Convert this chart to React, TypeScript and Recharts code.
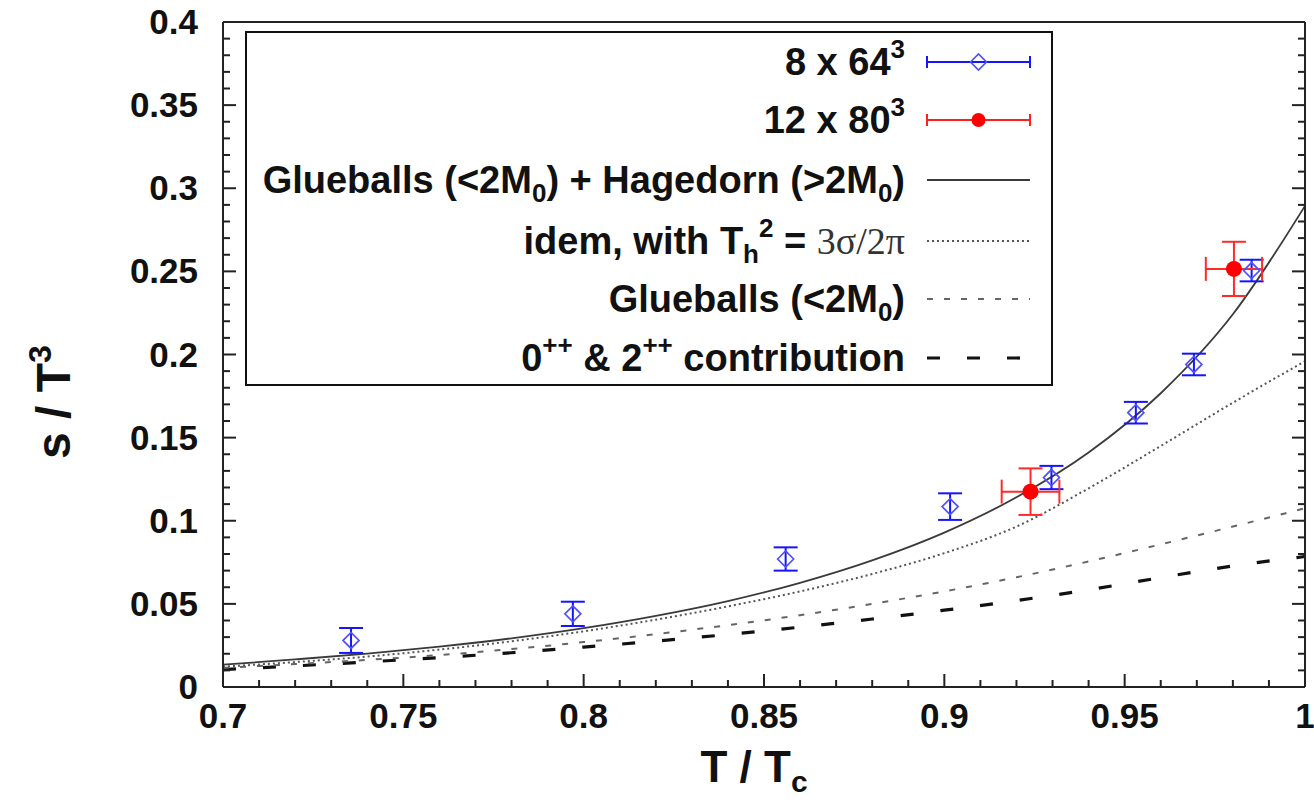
import { ComposedChart, Line, Scatter, XAxis, YAxis, ErrorBar, Legend } from 'recharts'

const tGrid = [0.7, 0.72, 0.74, 0.76, 0.78, 0.8, 0.82, 0.84, 0.86, 0.88, 0.9, 0.92, 0.94, 0.96, 0.98, 1.0]
// Glueballs (<2M0) + Hagedorn (>2M0)
const sFull = [0.0134, 0.0166, 0.0201, 0.0243, 0.0293, 0.0354, 0.0428, 0.0517, 0.0627, 0.0762, 0.0929, 0.1141, 0.1411, 0.1767, 0.2242, 0.2894]
// idem, with Th^2 = 3 sigma / 2 pi
const sTh = [0.0122, 0.015, 0.0183, 0.0225, 0.0275, 0.0335, 0.0405, 0.0485, 0.0575, 0.068, 0.0805, 0.0965, 0.1195, 0.145, 0.171, 0.196]
// Glueballs (<2M0)
const sGlue = [0.0115, 0.0138, 0.0163, 0.0192, 0.0228, 0.027, 0.0318, 0.0372, 0.0432, 0.05, 0.0575, 0.066, 0.0755, 0.0858, 0.0965, 0.1075]
// 0++ & 2++ contribution
const sLow = [0.0105, 0.0127, 0.0151, 0.0177, 0.0206, 0.024, 0.0276, 0.0316, 0.036, 0.0409, 0.0462, 0.052, 0.0585, 0.0658, 0.0728, 0.0785]

// lattice 8 x 64^3
const blueT = [0.7355, 0.797, 0.856, 0.9016, 0.9297, 0.9531, 0.9692, 0.9852]
const blueS = [0.028, 0.044, 0.077, 0.1085, 0.126, 0.165, 0.194, 0.2505]
const blueErr = [0.0075, 0.0073, 0.007, 0.008, 0.007, 0.0065, 0.0065, 0.0065]

// lattice 12 x 80^3
const redT = [0.9239, 0.9803]
const redS = [0.1175, 0.2515]
const redErrS = [0.014, 0.0163]
const redErrT = [0.008, 0.0078]

const xTicks = Array.from({ length: 31 }, (_, i) => +(0.7 + i * 0.01).toFixed(2))
const yTicks = Array.from({ length: 41 }, (_, i) => +(i * 0.01).toFixed(2))

const curve = (vals: number[]) => tGrid.map((t, i) => ({ t, s: vals[i] }))
const blueData = blueT.map((t, i) => ({ t, s: blueS[i], ey: blueErr[i] }))
const redData = redT.map((t, i) => ({ t, s: redS[i], ey: redErrS[i], ex: redErrT[i] }))

const FONT = '"Liberation Sans", Arial, sans-serif'
const AXIS = '#222'
const MAJOR = 13
const MINOR = 7
const isMajor = (v: number) => Math.abs(v * 20 - Math.round(v * 20)) < 1e-6
const fmt = (v: number) => String(+v.toFixed(2))
const tickText = { fontFamily: FONT, fontWeight: 700, fontSize: 35, fill: '#111' }

function BottomTick({ x, y, payload }: any) {
  const major = isMajor(payload.value)
  return (
    <g>
      <line x1={x} y1={y} x2={x} y2={y - (major ? MAJOR : MINOR)} stroke={AXIS} strokeWidth={2} />
      {major && (
        <text x={x} y={y + 41} textAnchor="middle" style={tickText}>{fmt(payload.value)}</text>
      )}
    </g>
  )
}

function TopTick({ x, y, payload }: any) {
  const major = isMajor(payload.value)
  return <line x1={x} y1={y} x2={x} y2={y + (major ? MAJOR : MINOR)} stroke={AXIS} strokeWidth={2} />
}

function LeftTick({ x, y, payload }: any) {
  const major = isMajor(payload.value)
  return (
    <g>
      <line x1={x} y1={y} x2={x + (major ? MAJOR : MINOR)} y2={y} stroke={AXIS} strokeWidth={2} />
      {major && (
        <text x={x - 25} y={y + 12} textAnchor="end" style={tickText}>{fmt(payload.value)}</text>
      )}
    </g>
  )
}

function RightTick({ x, y, payload }: any) {
  const major = isMajor(payload.value)
  return <line x1={x} y1={y} x2={x - (major ? MAJOR : MINOR)} y2={y} stroke={AXIS} strokeWidth={2} />
}

const titleText = { fontFamily: FONT, fontWeight: 700, fontSize: 44, fill: '#111' }

function XTitle({ viewBox }: any) {
  return (
    <text x={viewBox.x + viewBox.width / 2 - 10} y={viewBox.y + 95} textAnchor="middle" style={titleText}>
      T / T<tspan dy={10} fontSize={30}>c</tspan>
    </text>
  )
}

function YTitle() {
  return (
    <text transform="translate(70, 402) rotate(-90)" textAnchor="middle" style={{ ...titleText, fontSize: 48 }}>
      s / T<tspan dy={-19} fontSize={32}>3</tspan>
    </text>
  )
}

const Diamond = ({ cx, cy }: any) => (
  <polygon
    points={`${cx - 8},${cy} ${cx},${cy - 8} ${cx + 8},${cy} ${cx},${cy + 8}`}
    fill="none"
    stroke="#5050ff"
    strokeWidth={1.7}
  />
)
const Dot = ({ cx, cy }: any) => <circle cx={cx} cy={cy} r={8} fill="#ff0000" />

// line styles shared by the curves and the legend samples
const styles = {
  full: { stroke: '#3a3a3a', strokeWidth: 1.8 },
  th: { stroke: '#555', strokeWidth: 2, strokeDasharray: '2 3' },
  glue: { stroke: '#666', strokeWidth: 2, strokeDasharray: '6 11' },
  low: { stroke: '#111', strokeWidth: 3.2, strokeDasharray: '13 27' },
}

function LegendBox() {
  const rows = [31, 89, 149, 210, 268, 327]
  const tx = 660
  const x0 = 682
  const x1 = 785
  const xm = (x0 + x1) / 2
  const txt = { fontFamily: FONT, fontWeight: 700, fontSize: 38, fill: '#111' }
  const sub = 26
  return (
    <svg width={808} height={355} style={{ display: 'block' }}>
      <rect x={1} y={1} width={806} height={353} fill="#fff" stroke="#111" strokeWidth={2} />
      <text x={tx} y={rows[0] + 13} textAnchor="end" style={txt}>
        8 x 64<tspan dy={-17} fontSize={sub}>3</tspan>
      </text>
      <g stroke="#1414ff" strokeWidth={2}>
        <line x1={x0} y1={rows[0]} x2={x1} y2={rows[0]} />
        <line x1={x0} y1={rows[0] - 6} x2={x0} y2={rows[0] + 6} />
        <line x1={x1} y1={rows[0] - 6} x2={x1} y2={rows[0] + 6} />
      </g>
      <Diamond cx={xm} cy={rows[0]} />

      <text x={tx} y={rows[1] + 13} textAnchor="end" style={txt}>
        12 x 80<tspan dy={-17} fontSize={sub}>3</tspan>
      </text>
      <g stroke="#ff2020" strokeWidth={2}>
        <line x1={x0} y1={rows[1]} x2={x1} y2={rows[1]} />
        <line x1={x0} y1={rows[1] - 6} x2={x0} y2={rows[1] + 6} />
        <line x1={x1} y1={rows[1] - 6} x2={x1} y2={rows[1] + 6} />
      </g>
      <circle cx={xm} cy={rows[1]} r={7} fill="#ff0000" />

      <text x={tx} y={rows[2] + 13} textAnchor="end" style={txt}>
        Glueballs (&lt;2M<tspan dy={9} fontSize={sub}>0</tspan>
        <tspan dy={-9}>) + Hagedorn (&gt;2M</tspan>
        <tspan dy={9} fontSize={sub}>0</tspan>
        <tspan dy={-9}>)</tspan>
      </text>
      <line x1={x0} y1={rows[2]} x2={x1} y2={rows[2]} {...styles.full} />

      <text x={tx} y={rows[3] + 13} textAnchor="end" style={txt}>
        idem, with T<tspan dy={9} fontSize={sub}>h</tspan>
        <tspan dy={-26} fontSize={sub}>2</tspan>
        <tspan dy={17}> = </tspan>
        <tspan fontFamily='"Liberation Serif", "Times New Roman", serif' fontWeight={400} fill="#333">3σ/2π</tspan>
      </text>
      <line x1={x0} y1={rows[3]} x2={x1} y2={rows[3]} {...styles.th} />

      <text x={tx} y={rows[4] + 13} textAnchor="end" style={txt}>
        Glueballs (&lt;2M<tspan dy={9} fontSize={sub}>0</tspan>
        <tspan dy={-9}>)</tspan>
      </text>
      <line x1={x0} y1={rows[4]} x2={x1} y2={rows[4]} {...styles.glue} />

      <text x={tx} y={rows[5] + 13} textAnchor="end" style={txt}>
        0<tspan dy={-17} fontSize={sub}>++</tspan>
        <tspan dy={17}> &amp; 2</tspan>
        <tspan dy={-17} fontSize={sub}>++</tspan>
        <tspan dy={17}> contribution</tspan>
      </text>
      <line x1={x0} y1={rows[5]} x2={x1} y2={rows[5]} {...styles.low} />
    </svg>
  )
}

export default function App() {
  return (
    <div style={{ position: 'absolute', left: 0, top: 0, background: '#fff' }}>
      <ComposedChart width={1314} height={802} margin={{ top: 0, right: 0, bottom: 0, left: 0 }}>
        <XAxis
          dataKey="t"
          type="number"
          domain={[0.7, 1]}
          ticks={xTicks}
          interval={0}
          allowDataOverflow
          height={115}
          tickSize={0}
          tickMargin={0}
          tickLine={false}
          tick={<BottomTick />}
          axisLine={{ stroke: AXIS, strokeWidth: 2 }}
          label={<XTitle />}
        />
        <XAxis
          xAxisId="top"
          orientation="top"
          type="number"
          domain={[0.7, 1]}
          ticks={xTicks}
          interval={0}
          allowDataOverflow
          height={22}
          tickSize={0}
          tickMargin={0}
          tickLine={false}
          tick={<TopTick />}
          axisLine={{ stroke: AXIS, strokeWidth: 2 }}
        />
        <YAxis
          dataKey="s"
          type="number"
          domain={[0, 0.4]}
          ticks={yTicks}
          interval={0}
          allowDataOverflow
          width={223}
          tickSize={0}
          tickMargin={0}
          tickLine={false}
          tick={<LeftTick />}
          axisLine={{ stroke: AXIS, strokeWidth: 2 }}
          label={<YTitle />}
        />
        <YAxis
          yAxisId="right"
          orientation="right"
          type="number"
          domain={[0, 0.4]}
          ticks={yTicks}
          interval={0}
          allowDataOverflow
          width={9}
          tickSize={0}
          tickMargin={0}
          tickLine={false}
          tick={<RightTick />}
          axisLine={{ stroke: AXIS, strokeWidth: 2 }}
        />

        <Line data={curve(sLow)} dataKey="s" type="monotone" dot={false} activeDot={false} isAnimationActive={false} {...styles.low} />
        <Line data={curve(sGlue)} dataKey="s" type="monotone" dot={false} activeDot={false} isAnimationActive={false} {...styles.glue} />
        <Line data={curve(sTh)} dataKey="s" type="monotone" dot={false} activeDot={false} isAnimationActive={false} {...styles.th} />
        <Line data={curve(sFull)} dataKey="s" type="monotone" dot={false} activeDot={false} isAnimationActive={false} {...styles.full} />

        <Scatter data={blueData} dataKey="s" shape={<Diamond />} isAnimationActive={false}>
          <ErrorBar dataKey="ey" direction="y" width={12} stroke="#1414ff" strokeWidth={2} />
        </Scatter>
        <Scatter data={redData} dataKey="s" shape={<Dot />} isAnimationActive={false}>
          <ErrorBar dataKey="ey" direction="y" width={12} stroke="#ff2a2a" strokeWidth={2} />
          <ErrorBar dataKey="ex" direction="x" width={12} stroke="#ff2a2a" strokeWidth={2} />
        </Scatter>

        <Legend
          content={() => <LegendBox />}
          layout="vertical"
          align="center"
          verticalAlign="middle"
          wrapperStyle={{ left: 245, top: 31, width: 808, height: 355 }}
        />
      </ComposedChart>
    </div>
  )
}
